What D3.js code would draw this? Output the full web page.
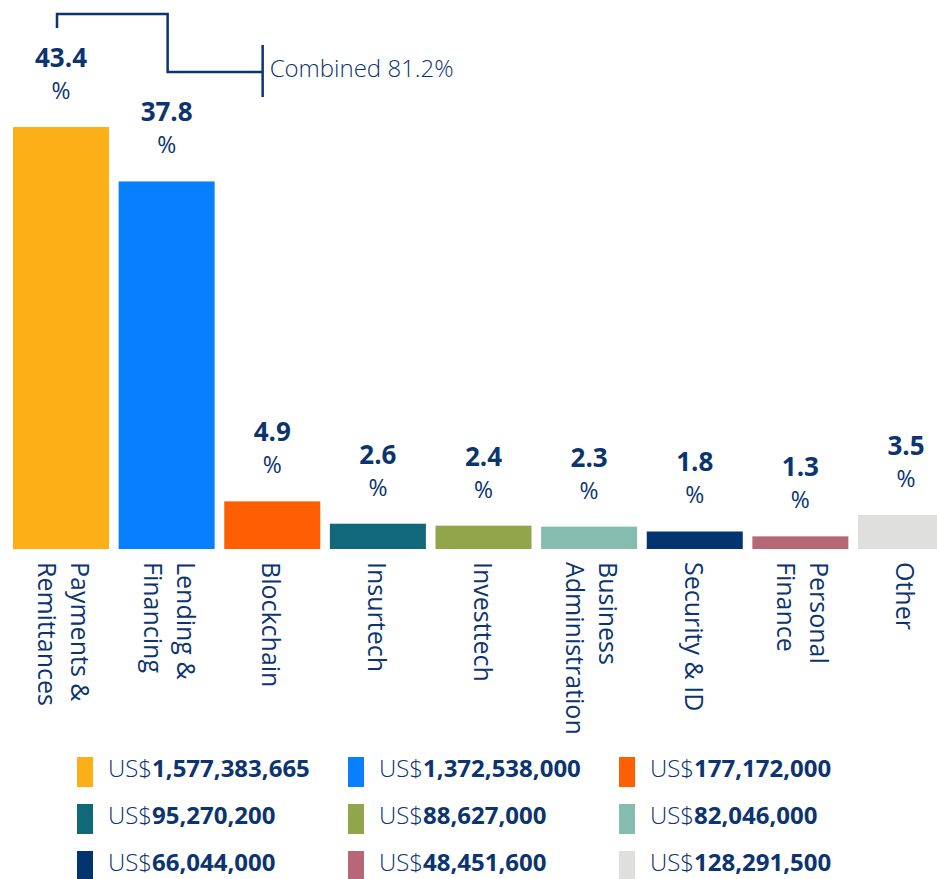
<!DOCTYPE html>
<html lang="en">
<head>
  <meta charset="UTF-8">
  <title>Fintech investment by sector</title>
  <script src="https://d3js.org/d3.v7.min.js"></script>
  <style>
    html, body { margin: 0; padding: 0; background: #fff; }
    svg { display: block; font-family: "Open Sans", "Noto Sans", sans-serif; }
    .val { font-weight: 700; fill: #0b3470; }
    .pct { font-weight: 400; fill: #0b3470; }
    .cat { font-weight: 400; fill: #0b3470; }
    .leg { fill: #0b3470; }
  </style>
</head>
<body>
<svg width="937" height="879"></svg>

<script>
// data
const categories = [
  ["Payments &", "Remittances"],
  ["Lending &", "Financing"],
  ["Blockchain"],
  ["Insurtech"],
  ["Investtech"],
  ["Business", "Administration"],
  ["Security & ID"],
  ["Personal", "Finance"],
  ["Other"]
];
const shares = [43.4, 37.8, 4.9, 2.6, 2.4, 2.3, 1.8, 1.3, 3.5];
const amounts = ["1,577,383,665", "1,372,538,000", "177,172,000",
                 "95,270,200", "88,627,000", "82,046,000",
                 "66,044,000", "48,451,600", "128,291,500"];
const colors = ["#fcaf17", "#087ffe", "#fe5f02", "#106878", "#91a64b",
                "#84bdaf", "#03346f", "#b86777", "#dfdfdd"];
const combinedLabel = "Combined 81.2%";

const navy = "#0b3470";
const svg = d3.select("svg");
const keys = categories.map((c, i) => c.join(" "));

const x = d3.scaleBand().domain(keys).range([13, 954]).paddingInner(0.091).paddingOuter(0);
const y = d3.scaleLinear().domain([0, 43.4]).range([549, 127]);
const bw = x.bandwidth();

const rows = keys.map((k, i) => ({ key: k, lines: categories[i], v: shares[i], c: colors[i], amt: amounts[i] }));

// bars
svg.append("g").selectAll("rect")
  .data(rows).join("rect")
  .attr("x", d => x(d.key))
  .attr("y", d => y(d.v))
  .attr("width", bw)
  .attr("height", d => y(0) - y(d.v))
  .attr("fill", d => d.c);

// value labels (number on one line, % under it)
const vl = svg.append("g").selectAll("g").data(rows).join("g")
  .attr("transform", d => `translate(${x(d.key) + bw / 2},${y(d.v)})`);
vl.append("text").attr("class", "val")
  .attr("text-anchor", "middle").attr("y", -60)
  .style("font-size", "26px")
  .text(d => d.v.toFixed(1));
vl.append("text").attr("class", "pct")
  .attr("text-anchor", "middle").attr("y", -28)
  .style("font-size", "23px")
  .text("%");

// rotated category labels
const cl = svg.append("g").selectAll("g").data(rows).join("g")
  .attr("transform", d => `translate(${x(d.key) + bw / 2},562) rotate(90)`);
cl.each(function(d) {
  const n = d.lines.length;
  d3.select(this).selectAll("text").data(d.lines).join("text")
    .attr("class", "cat")
    .attr("x", 0)
    .attr("y", (t, i) => -(-10 + (n - 1) * 20 - i * 33))
    .style("font-size", "25px")
    .text(t => t);
});

// "Combined" bracket over the first two bars
const xa = x(keys[0]) + bw / 2 - 4;
const xb = x(keys[1]) + bw / 2 + 1;
const xc = x(keys[2]) + bw * 0.4;
svg.append("path")
  .attr("d", `M${xa},28 V14 H${xb} V72 H${xc}`)
  .attr("fill", "none").attr("stroke", navy).attr("stroke-width", 2.5);
svg.append("line")
  .attr("x1", xc).attr("x2", xc).attr("y1", 45).attr("y2", 97)
  .attr("stroke", navy).attr("stroke-width", 2.5);
svg.append("text")
  .attr("x", xc + 7).attr("y", 77)
  .attr("fill", navy)
  .style("font-size", "24px").style("font-weight", 300)
  .text(combinedLabel);

// legend, 3 columns
const colX = [77, 348, 619];
const rowY = [757, 804, 851];
const lg = svg.append("g").selectAll("g").data(rows).join("g")
  .attr("transform", (d, i) => `translate(${colX[i % 3]},${rowY[Math.floor(i / 3)]})`);
lg.append("rect").attr("width", 16).attr("height", 30).attr("fill", d => d.c);
const lt = lg.append("text").attr("class", "leg")
  .attr("x", 31).attr("y", 20).style("font-size", "24px");
lt.append("tspan").style("font-weight", 300).text("US$");
lt.append("tspan").style("font-weight", 700).text(d => d.amt);
</script>
</body>
</html>
